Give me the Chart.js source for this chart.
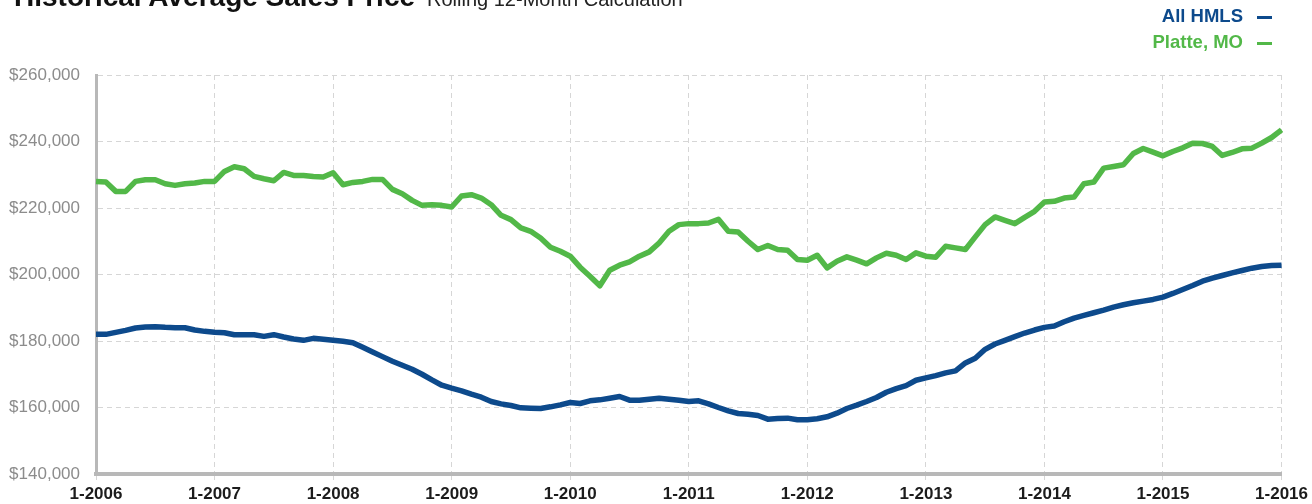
<!DOCTYPE html>
<html>
<head>
<meta charset="utf-8">
<script src="https://cdn.jsdelivr.net/npm/chart.js@4"></script>
<style>
	body { margin: 0; background: #fff; }
	#wrap { position: relative; width: 1312px; height: 504px; overflow: hidden; font-family: 'Liberation Sans', Arial, sans-serif; }
	#price-chart { position: absolute; left: 0; top: 0; }
	.title { position: absolute; left: 14px; top: -18px; line-height: 30px; font-size: 28px; font-weight: bold; color: #111; white-space: nowrap; }
	.title span { font-size: 20px; font-weight: normal; color: #222; margin-left: 12px; }
	.legend { position: absolute; right: 40px; font-size: 18.5px; font-weight: bold; white-space: nowrap; line-height: 20px; }
	.legend i { display: inline-block; width: 15px; height: 3px; margin-left: 14px; vertical-align: middle; }
</style>
</head>
<body>
<div id="wrap">
	<canvas id="price-chart" width="1312" height="504"></canvas>
	<div class="title">Historical Average Sales Price<span>Rolling 12-Month Calculation</span></div>
	<div class="legend" style="top: 6px; color: #0d4a8c;">All HMLS<i style="background: #0d4a8c;"></i></div>
	<div class="legend" style="top: 32px; color: #52b848;">Platte, MO<i style="background: #52b848;"></i></div>
</div>
<script>
Chart.defaults.font.family = "'Liberation Sans', Arial, sans-serif";

var startYear = 2006;
var endYear = 2016;

// monthly labels 1-2006 .. 1-2016
var monthLabels = [];
for (var y = startYear; y <= endYear; y++) {
	for (var m = 1; m <= 12; m++) {
		if (y == endYear && m > 1) break;
		monthLabels.push(m + '-' + y);
	}
}

var allHmlsPrice = [
	182000, 182000, 182600, 183200, 183900, 184200, 184300, 184100, 184000, 184000, 183300, 182900,
	182600, 182500, 181900, 181900, 181900, 181400, 181900, 181200, 180600, 180200, 180800, 180500,
	180200, 179900, 179500, 178100, 176700, 175300, 173900, 172700, 171500, 170000, 168300, 166700,
	165800, 165000, 164000, 163100, 161800, 161100, 160600, 159900, 159800, 159700, 160200, 160800,
	161500, 161200, 162000, 162300, 162800, 163300, 162200, 162200, 162500, 162800, 162500, 162200,
	161800, 162000, 161100, 160000, 159000, 158200, 158000, 157600, 156500, 156700, 156800, 156300,
	156300, 156600, 157200, 158300, 159700, 160700, 161800, 163000, 164600, 165700, 166600, 168200,
	168900, 169600, 170400, 171000, 173400, 174800, 177500, 179100, 180200, 181300, 182400, 183300,
	184100, 184500, 185800, 186900, 187700, 188500, 189300, 190200, 190900, 191500, 192000, 192500,
	193200, 194300, 195500, 196700, 198000, 198900, 199700, 200500, 201200, 201900, 202400, 202700,
	202800
];

var plattePrice = [
	228000, 227800, 225000, 225000, 228000, 228500, 228500, 227300, 226800, 227300, 227500, 228000,
	228000, 231000, 232400, 231800, 229500, 228800, 228200, 230700, 229800, 229800, 229500, 229300,
	230600, 227000, 227700, 228000, 228600, 228600, 225600, 224300, 222300, 220800, 221000, 220800,
	220300, 223600, 224000, 223000, 221000, 217800, 216500, 214000, 213000, 211000, 208200, 207000,
	205500, 202200, 199500, 196600, 201300, 202800, 203800, 205500, 206800, 209500, 213000, 215000,
	215300, 215300, 215500, 216600, 213000, 212800, 210000, 207500, 208700, 207500, 207300, 204500,
	204300, 205800, 202000, 204000, 205300, 204300, 203200, 205000, 206400, 205800, 204500, 206500,
	205500, 205200, 208500, 208000, 207500, 211300, 215000, 217300, 216300, 215300, 217200, 219000,
	221800, 222000, 223000, 223300, 227300, 227800, 232000, 232500, 233000, 236400, 237900, 236800,
	235700, 237000, 238100, 239500, 239400, 238500, 235800, 236700, 237800, 238000, 239500, 241200,
	243500
];

var yTicks = [140000, 160000, 180000, 200000, 220000, 240000, 260000];

function isYearTick(i) {
	return i % 12 === 0;
}

const ctx = document.getElementById('price-chart').getContext('2d');
const priceChart = new Chart(ctx, {
	type: 'line',
	data: {
		labels: monthLabels,
		datasets: [
			{
				label: 'All HMLS',
				data: allHmlsPrice,
				borderColor: '#0d4a8c',
				borderWidth: 5.5,
				pointRadius: 0,
				borderJoinStyle: 'round',
				tension: 0
			},
			{
				label: 'Platte, MO',
				data: plattePrice,
				borderColor: '#52b848',
				borderWidth: 5.5,
				pointRadius: 0,
				borderJoinStyle: 'round',
				tension: 0
			}
		]
	},
	options: {
		responsive: false,
		animation: false,
		layout: {
			padding: { left: 0, right: 5, top: 75, bottom: 0 }
		},
		plugins: {
			legend: { display: false },
			tooltip: { enabled: false }
		},
		scales: {
			x: {
				grid: {
					color: function(c) { return isYearTick(c.index) ? '#d6d6d6' : 'rgba(0,0,0,0)'; },
					lineWidth: 1,
					tickLength: 6
				},
				border: { display: true, color: '#b8b8b8', width: 4, dash: [5, 4] },
				ticks: {
					autoSkip: false,
					maxRotation: 0,
					minRotation: 0,
					padding: 4,
					color: '#1c1c1c',
					font: { size: 17, weight: 'bold' },
					callback: function(val, i) { return isYearTick(i) ? monthLabels[i] : ''; }
				},
				afterFit: function(scale) { scale.height = 30; }
			},
			y: {
				min: yTicks[0],
				max: yTicks[yTicks.length - 1],
				afterBuildTicks: function(scale) {
					scale.ticks = yTicks.map(function(v) { return { value: v }; });
				},
				grid: {
					color: '#d6d6d6',
					lineWidth: 1,
					drawTicks: false
				},
				border: { display: true, color: '#b8b8b8', width: 3, dash: [5, 4] },
				ticks: {
					padding: 16,
					color: '#8c8c8c',
					font: { size: 17 },
					callback: function(v) { return '$' + v.toLocaleString('en-US'); }
				},
				afterFit: function(scale) { scale.width = 96; }
			}
		}
	}
});
</script>
</body>
</html>
